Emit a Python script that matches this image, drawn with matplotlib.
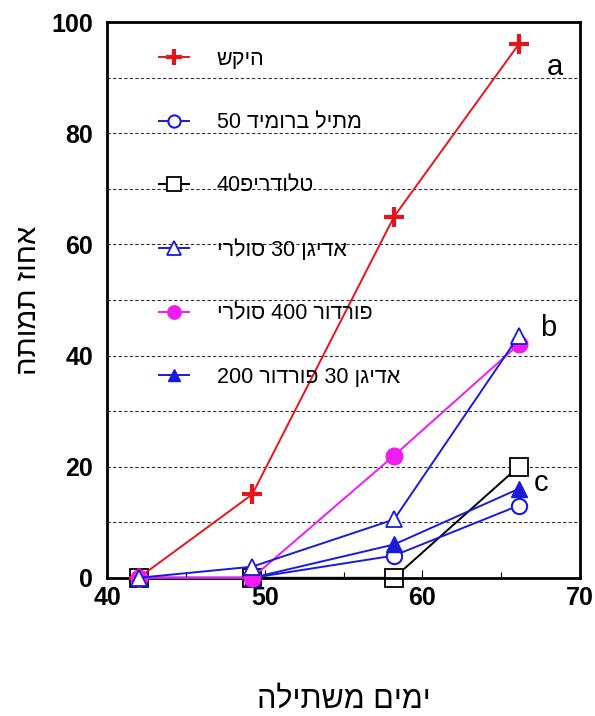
import matplotlib
matplotlib.use('Agg')
import matplotlib.pyplot as plt
import re

plt.rcParams['font.family'] = ['Liberation Sans', 'DejaVu Sans']

# data
days = [42, 49.2, 58.2, 66.1]
control = [0, 15, 65, 96]
methyl_bromide = [0, 0, 4, 13]
telodrip = [0, 0, 0, 20]
adigan_solar = [0, 2, 10.5, 43.5]
fordor_solar = [0, 0, 22, 42]
adigan_fordor = [0, 0, 6, 16]

names = ["היקש", "מתיל ברומיד 50", "טלודריפ40", "אדיגן 30 סולרי",
         "פורדור 400 סולרי", "אדיגן 30 פורדור 200"]
group_letters = ["a", "b", "c"]
group_pos = [(68.4, 92), (68.0, 45), (67.5, 17)]


def visual(s):
    """
    matplotlib has no bidi, so flip the hebrew
    but keep the digit runs the right way round
    """
    r = s[::-1]
    return re.sub(r'\d+', lambda m: m.group(0)[::-1], r)


fig = plt.figure(figsize=(5.95, 7.16), dpi=100)
ax = fig.add_axes([0.18, 0.193, 0.795, 0.776])

series = [control, methyl_bromide, telodrip, adigan_solar, fordor_solar, adigan_fordor]
styles = [
    dict(color='#e8141c', marker='+', ms=14, mew=3, mfc='#e8141c', z=3),
    dict(color='#1a1adc', marker='o', ms=11, mew=1.5, mfc='white', z=4),
    dict(color='black', marker='s', ms=13, mew=1.3, mfc='white', z=2),
    dict(color='#1a1adc', marker='^', ms=12, mew=1.3, mfc='white', z=6),
    dict(color='#f01cf0', marker='o', ms=12, mew=1, mfc='#f01cf0', z=5),
    dict(color='#1a1adc', marker='^', ms=11, mew=1, mfc='#1a1adc', z=4.5),
]
for vals, st, name in zip(series, styles, names):
    ax.plot(days, vals, color=st['color'], marker=st['marker'], markersize=st['ms'],
            markeredgewidth=st['mew'], markerfacecolor=st['mfc'], markeredgecolor=st['color'],
            linewidth=1.4, label=visual(name), zorder=st['z'], clip_on=False)

for letter, (x, y) in zip(group_letters, group_pos):
    ax.text(x, y, letter, fontsize=21, ha='center', va='center')

ax.set_xlim(40, 70)
ax.set_ylim(0, 100)
ax.set_xticks([40, 50, 60, 70])
ax.set_xticks([45, 55, 65], minor=True)
ax.set_yticks([0, 20, 40, 60, 80, 100])
for y in range(10, 100, 10):
    ax.axhline(y, color='#333333', linestyle=(0, (3, 2)), linewidth=0.8, zorder=0)

ax.tick_params(axis='both', which='both', direction='in')
ax.tick_params(axis='y', length=0, pad=10)
ax.tick_params(axis='x', length=6, width=0.8, pad=6)
ax.tick_params(axis='x', which='minor', length=4, width=0.8)
for lab in ax.get_xticklabels() + ax.get_yticklabels():
    lab.set_fontsize(18)
    lab.set_fontweight('bold')
for sp in ax.spines.values():
    sp.set_linewidth(2)

ax.set_xlabel(visual("ימים משתילה"), fontsize=22, va='center')
ax.xaxis.set_label_coords(0.5, -0.219)
ax.set_ylabel(visual("אחוז תמותה"), fontsize=21, va='center')
ax.yaxis.set_label_coords(-0.168, 0.5)

leg = ax.legend(loc='upper left', bbox_to_anchor=(0.068, 0.987), frameon=False,
                fontsize=15.5, labelspacing=1.97, handlelength=1.4, handletextpad=1.3,
                markerscale=0.8, numpoints=1)

fig.savefig('out.png', dpi=100)
